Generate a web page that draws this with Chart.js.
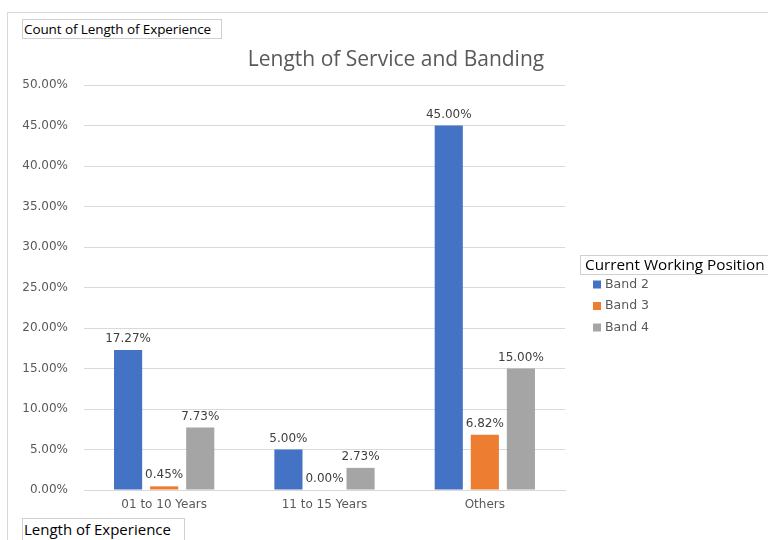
<!DOCTYPE html>
<html>
<head>
<meta charset="utf-8">
<script src="https://cdn.jsdelivr.net/npm/chart.js@4/dist/chart.umd.min.js"></script>
<style>
  html, body { margin: 0; padding: 0; background: #fff; }
  #wrap { position: relative; width: 768px; height: 540px; overflow: hidden; }
  #frame { position: absolute; left: 7px; top: 12px; width: 770px; height: 540px; border: 1px solid #d9d9d9; box-sizing: border-box; }
  canvas { position: absolute; left: 0; top: 0; }
  .btn { position: absolute; border: 1px solid #d0d0d0; background: #fff; color: #000; white-space: nowrap; box-sizing: border-box; font-family: "Open Sans", sans-serif; }
  #b1 { left: 22px; top: 19px; width: 200px; height: 20px; font-size: 13.5px; line-height: 18px; padding-left: 1px; letter-spacing: -0.1px; }
  #b2 { left: 22px; top: 518px; width: 163px; height: 24px; font-size: 15px; line-height: 21px; padding-left: 1px; }
</style>
</head>
<body>
<div id="wrap">
  <div id="frame"></div>
  <canvas id="c" width="768" height="540"></canvas>
  <div class="btn" id="b1">Count of Length of Experience</div>
  <div class="btn" id="b2">Length of Experience</div>
</div>
<script>
const categories = ["01 to 10 Years", "11 to 15 Years", "Others"];
const seriesNames = ["Band 2", "Band 3", "Band 4"];
const band2 = [17.27, 5.00, 45.00];
const band3 = [0.45, 0.00, 6.82];
const band4 = [7.73, 2.73, 15.00];
const yTicks = [0, 5, 10, 15, 20, 25, 30, 35, 40, 45, 50];
const colors = ["#4472C4", "#ED7D31", "#A5A5A5"];
const chartTitle = "Length of Service and Banding";
const legendTitle = "Current Working Position";
const LBL = '"DejaVu Sans", sans-serif';
const TTL = '"Open Sans", sans-serif';

const titlePlugin = {
  id: 'titlePlugin',
  afterDraw(chart) {
    const ctx = chart.ctx;
    ctx.save();
    ctx.font = '21px ' + TTL;
    ctx.fillStyle = '#595959';
    ctx.textAlign = 'center';
    ctx.textBaseline = 'middle';
    ctx.fillText(chartTitle, 396, 60);
    ctx.restore();
  }
};

const dataLabels = {
  id: 'dataLabels',
  afterDatasetsDraw(chart) {
    const ctx = chart.ctx;
    ctx.save();
    ctx.font = '12px ' + LBL;
    ctx.fillStyle = '#404040';
    ctx.textAlign = 'center';
    ctx.textBaseline = 'bottom';
    chart.data.datasets.forEach((ds, di) => {
      const meta = chart.getDatasetMeta(di);
      meta.data.forEach((bar, i) => {
        ctx.fillText(ds.data[i].toFixed(2) + '%', bar.x, bar.y - 5);
      });
    });
    ctx.restore();
  }
};

const customLegend = {
  id: 'customLegend',
  afterDraw(chart) {
    const ctx = chart.ctx;
    ctx.save();
    ctx.strokeStyle = '#d0d0d0';
    ctx.lineWidth = 1;
    ctx.strokeRect(580.5, 255.5, 200, 19);
    ctx.font = '500 15.3px ' + TTL;
    ctx.fillStyle = '#000';
    ctx.textAlign = 'left';
    ctx.textBaseline = 'middle';
    ctx.fillText(legendTitle, 585, 265.5);
    ctx.font = '12.5px ' + LBL;
    chart.data.datasets.forEach((ds, i) => {
      const y = 284.5 + i * 21.5;
      ctx.fillStyle = ds.backgroundColor;
      ctx.fillRect(593, y - 4, 8, 8);
      ctx.fillStyle = '#595959';
      ctx.fillText(ds.label, 605, y);
    });
    ctx.restore();
  }
};

new Chart(document.getElementById('c'), {
  type: 'bar',
  data: {
    labels: categories,
    datasets: [
      { label: seriesNames[0], data: band2, backgroundColor: colors[0] },
      { label: seriesNames[1], data: band3, backgroundColor: colors[1] },
      { label: seriesNames[2], data: band4, backgroundColor: colors[2] }
    ]
  },
  options: {
    responsive: false,
    animation: false,
    layout: { padding: { left: 8, top: 85, right: 203, bottom: 24 } },
    categoryPercentage: 0.675,
    barPercentage: 0.78,
    plugins: {
      legend: { display: false },
      tooltip: { enabled: false },
      title: { display: false }
    },
    scales: {
      x: {
        grid: { display: false, drawTicks: false },
        border: { color: '#d9d9d9' },
        ticks: { color: '#595959', font: { family: LBL, size: 12 }, padding: 8 },
        afterFit(s) { s.height = 26; }
      },
      y: {
        min: 0, max: 50,
        afterBuildTicks(s) { s.ticks = yTicks.map(v => ({ value: v })); },
        grid: { color: '#d9d9d9', drawTicks: false },
        border: { display: false },
        ticks: {
          color: '#595959',
          font: { family: LBL, size: 12 },
          padding: 16,
          callback: v => v.toFixed(2) + '%'
        },
        afterFit(s) { s.width = 76; }
      }
    }
  },
  plugins: [titlePlugin, dataLabels, customLegend]
});
</script>
</body>
</html>
